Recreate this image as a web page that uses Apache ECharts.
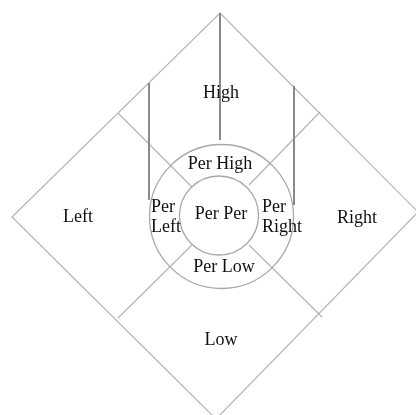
<!DOCTYPE html>
<html>
<head>
<meta charset="utf-8">
<script src="https://cdn.jsdelivr.net/npm/echarts@6/dist/echarts.min.js"></script>
<style>
html,body{margin:0;padding:0;background:#fff}
#main{width:416px;height:415px}
</style>
</head>
<body>
<div id="main"></div>
<script>
// diagram geometry, in picture units (x right, y down)
var diamond = [[220, 13], [418, 212], [216, 419], [12, 217]];
var dividers = [
  [118, 113, 192, 187],
  [320, 112, 249, 185],
  [118, 318, 192, 245],
  [322, 317, 249, 245]
];
var posts = [
  [220, 13, 220, 140],
  [149, 83, 149, 200],
  [294, 86, 294, 205]
];
var rings = [[221.5, 216.5, 72], [219, 215.5, 39.5]];
var labels = ['High', 'Left', 'Right', 'Low', 'Per High', 'Per Per', 'Per\nLeft', 'Per\nRight', 'Per Low'];
var labelPos = [[221, 93], [78, 217], [357, 218], [221, 340], [220, 164], [221, 214], [151, 217], [262, 217], [224, 267]];

var chart = echarts.init(document.getElementById('main'));

var thin = '#b4b4b4';

function segItem(color, width) {
  return function (params, api) {
    var a = api.coord([api.value(0), api.value(1)]);
    var b = api.coord([api.value(2), api.value(3)]);
    return {
      type: 'line',
      shape: {x1: a[0], y1: a[1], x2: b[0], y2: b[1]},
      style: {stroke: color, lineWidth: width}
    };
  };
}

var option = {
  animation: false,
  grid: {left: 0, right: 0, top: 0, bottom: 0},
  xAxis: {type: 'value', min: 0, max: 416, show: false},
  yAxis: {type: 'value', min: 0, max: 415, inverse: true, show: false},
  series: [
    {
      type: 'custom',
      data: [[0, 0]],
      renderItem: function (params, api) {
        var pts = diamond.map(function (p) { return api.coord(p); });
        return {
          type: 'polygon',
          shape: {points: pts},
          style: {fill: 'none', stroke: thin, lineWidth: 1.2}
        };
      }
    },
    {
      type: 'custom',
      data: dividers,
      renderItem: segItem(thin, 1.2)
    },
    {
      type: 'custom',
      data: rings,
      renderItem: function (params, api) {
        var c = api.coord([api.value(0), api.value(1)]);
        var r = api.size([api.value(2), 0])[0];
        return {
          type: 'circle',
          shape: {cx: c[0], cy: c[1], r: r},
          style: {fill: 'none', stroke: '#a8a8a8', lineWidth: 1.3}
        };
      }
    },
    {
      type: 'custom',
      data: posts,
      renderItem: segItem('#8a8a8a', 2)
    },
    {
      type: 'custom',
      data: labelPos.map(function (p, i) { return [p[0], p[1], i]; }),
      renderItem: function (params, api) {
        var c = api.coord([api.value(0), api.value(1)]);
        var txt = labels[api.value(2)];
        var multi = txt.indexOf('\n') >= 0;
        return {
          type: 'text',
          x: c[0],
          y: c[1],
          style: {
            text: txt,
            fontFamily: 'Liberation Serif',
            fontSize: 18,
            fill: '#111',
            align: multi ? 'left' : 'center',
            verticalAlign: 'middle',
            lineHeight: 20
          }
        };
      }
    }
  ]
};

chart.setOption(option);
</script>
</body>
</html>
